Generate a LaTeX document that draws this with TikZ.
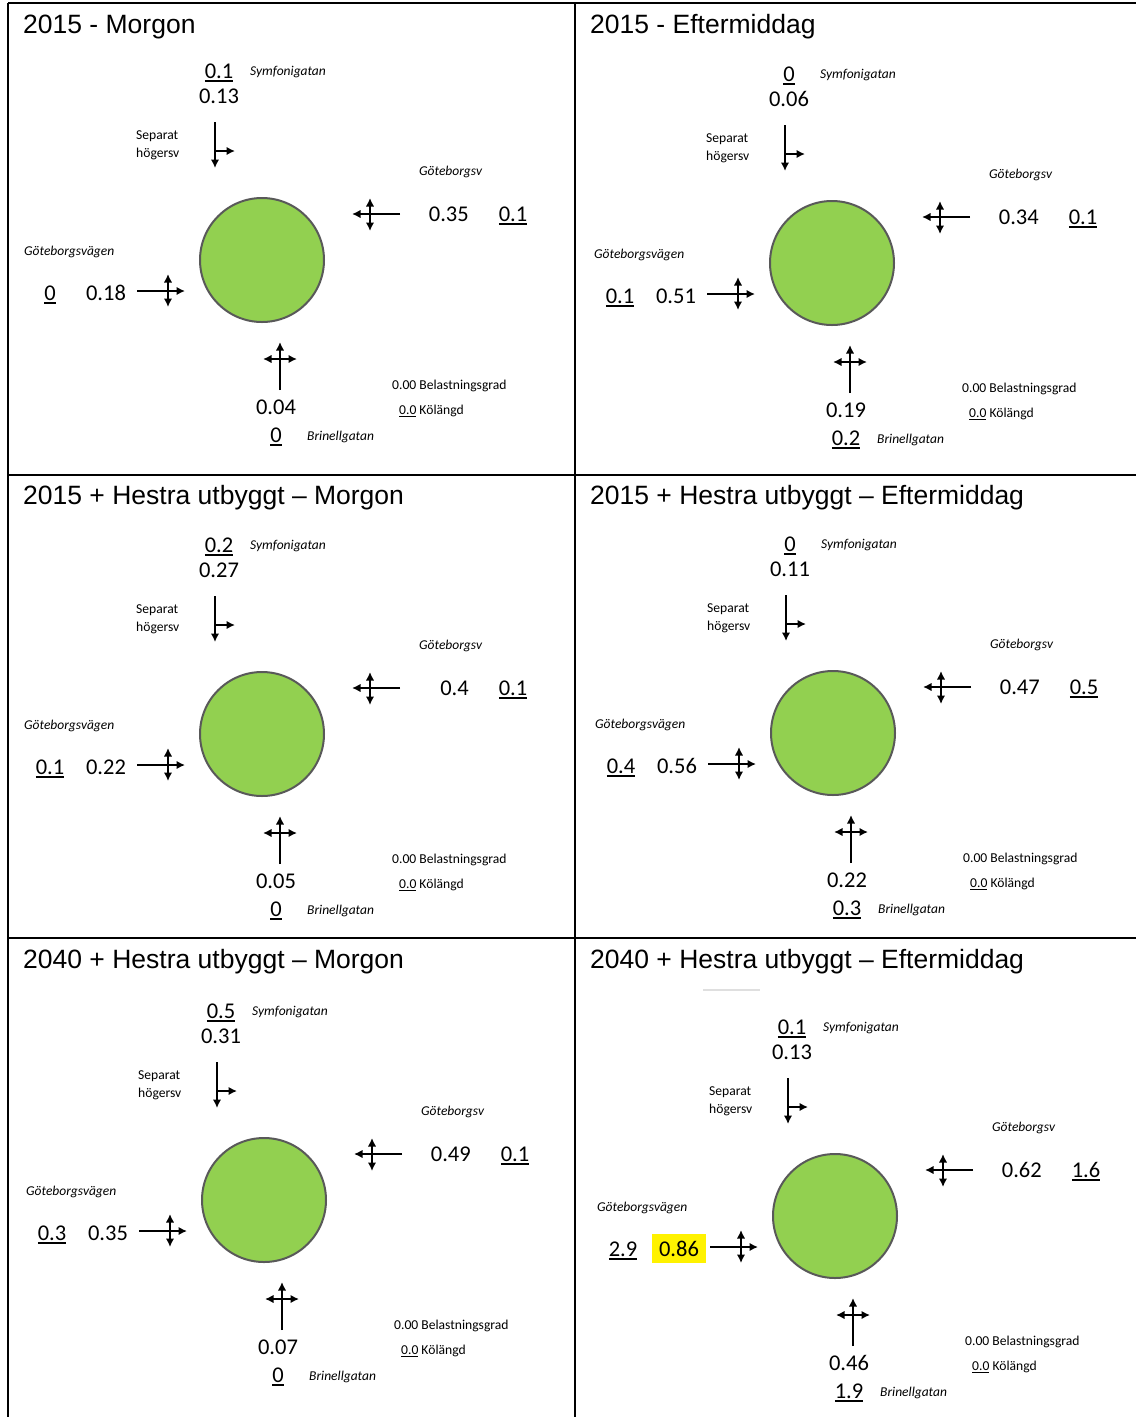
\documentclass[tikz,border=0pt]{standalone}
\usepackage{fontspec}
\setmainfont{Liberation Sans}
\newfontfamily\calfont{Carlito}
\usetikzlibrary{arrows.meta}
\definecolor{grongul}{HTML}{92D050}
\definecolor{gratt}{HTML}{595959}
\tikzstyle{cirkel} = [circle, minimum size=124pt, inner sep=0pt, fill=grongul, draw=gratt, line width=2pt]
\tikzstyle{pil} = [line width=2.2pt, >={Latex[length=8.5pt,width=8.5pt]}]
\tikzstyle{linje} = [line width=2pt]
\tikzstyle{rubrik} = [anchor=base west, inner sep=0pt, font=\fontsize{26.5}{30}\selectfont]
\tikzstyle{tal} = [anchor=base, inner sep=0pt, font=\calfont\fontsize{22.5}{26}\selectfont]
\tikzstyle{liten} = [anchor=base west, inner sep=0pt, font=\calfont\fontsize{13.6}{16}\selectfont]
\tikzstyle{gata} = [anchor=base west, inner sep=0pt, font=\calfont\itshape\fontsize{13.5}{16}\selectfont]

\newcommand{\undr}[1]{\setbox0=\hbox{#1}\rlap{\rule[-0.18em]{\wd0}{0.07em}}\box0\relax}
\newcommand{\gul}[1]{{\setlength{\fboxsep}{7pt}\colorbox{yellow}{#1}}}

% fast del av en korsning, ritas runt (0,0)
\newcommand{\korsning}[1]{%
  \node[cirkel] (#1-c) at (0,0) {};
  \node[gata] (#1-sym) at (-12,-185) {Symfonigatan};
  \node[liten] (#1-sep) at (-126,-121) {Separat};
  \node[liten] (#1-hog) at (-126,-103) {högersv};
  \draw[pil,->] (-47,-138) -- (-47,-92);
  \draw[pil,->] (-48,-109) -- (-27,-109);
  \node[gata] (#1-gbv) at (157,-85) {Göteborgsv};
  \draw[pil,->] (138,-46) -- (90,-46);
  \draw[pil,<->] (108,-62) -- (108,-29);
  \node[gata] (#1-gv) at (-238,-5) {Göteborgsvägen};
  \draw[pil,->] (-125,31) -- (-77,31);
  \draw[pil,<->] (-94,14) -- (-94,47);
  \draw[pil,->] (18,130) -- (18,82);
  \draw[pil,<->] (1,99) -- (35,99);
  \node[gata] (#1-br) at (45,180) {Brinellgatan};
  \node[liten] (#1-bel) at (130,129) {0.00 Belastningsgrad};
  \node[liten] (#1-ko) at (137,154) {\undr{0.0} Kölängd};
}
% värden: symfoni, göteborgsv, göteborgsvägen, brinell
\newcommand{\varden}[9]{%
  \node[tal] (#1-symu) at (-43,-182) {\undr{#2}};
  \node[tal] (#1-symv) at (-43,-157) {#3};
  \node[tal, anchor=base east] (#1-gbvv) at (207,-39) {#4};
  \node[tal] (#1-gbvu) at (251,-39) {\undr{#5}};
  \node[tal] (#1-gvu) at (-212,40) {\undr{#6}};
  \node[tal] (#1-gvv) at (-156,40) {#7};
  \node[tal] (#1-brv) at (14,154) {#8};
  \node[tal] (#1-bru) at (14,182) {\undr{#9}};
}

\begin{document}
\begin{tikzpicture}[x=1pt, y=-1pt]
\useasboundingbox (0,0) rectangle (1136,1417);

% tabell
\draw[linje] (8,3) -- (1136,3);
\draw[linje] (8,3) -- (8,1417);
\draw[linje] (575,3) -- (575,1417);
\draw[linje] (8,475) -- (1136,475);
\draw[linje] (8,938) -- (1136,938);

% rubriker
\node[rubrik] (t1) at (23,33) {2015 - Morgon};
\node[rubrik] (t2) at (590,33) {2015 - Eftermiddag};
\node[rubrik] (t3) at (23,504) {2015 + Hestra utbyggt -- Morgon};
\node[rubrik] (t4) at (590,504) {2015 + Hestra utbyggt -- Eftermiddag};
\node[rubrik] (t5) at (23,968) {2040 + Hestra utbyggt -- Morgon};
\node[rubrik] (t6) at (590,968) {2040 + Hestra utbyggt -- Eftermiddag};

\begin{scope}[shift={(262,260)}]
  \korsning{p1}
  \varden{p1}{0.1}{0.13}{0.35}{0.1}{0}{0.18}{0.04}{0}
\end{scope}

\begin{scope}[shift={(832,263)}]
  \korsning{p2}
  \varden{p2}{0}{0.06}{0.34}{0.1}{0.1}{0.51}{0.19}{0.2}
\end{scope}

\begin{scope}[shift={(262,734)}]
  \korsning{p3}
  \varden{p3}{0.2}{0.27}{0.4}{0.1}{0.1}{0.22}{0.05}{0}
\end{scope}

\begin{scope}[shift={(833,733)}]
  \korsning{p4}
  \varden{p4}{0}{0.11}{0.47}{0.5}{0.4}{0.56}{0.22}{0.3}
\end{scope}

\begin{scope}[shift={(264,1200)}]
  \korsning{p5}
  \varden{p5}{0.5}{0.31}{0.49}{0.1}{0.3}{0.35}{0.07}{0}
\end{scope}

\draw[gray!25, line width=1.5pt] (703,990) -- (760,990);
\begin{scope}[shift={(835,1216)}]
  \korsning{p6}
  \varden{p6}{0.1}{0.13}{0.62}{1.6}{2.9}{\gul{0.86}}{0.46}{1.9}
\end{scope}
\end{tikzpicture}
\end{document}
